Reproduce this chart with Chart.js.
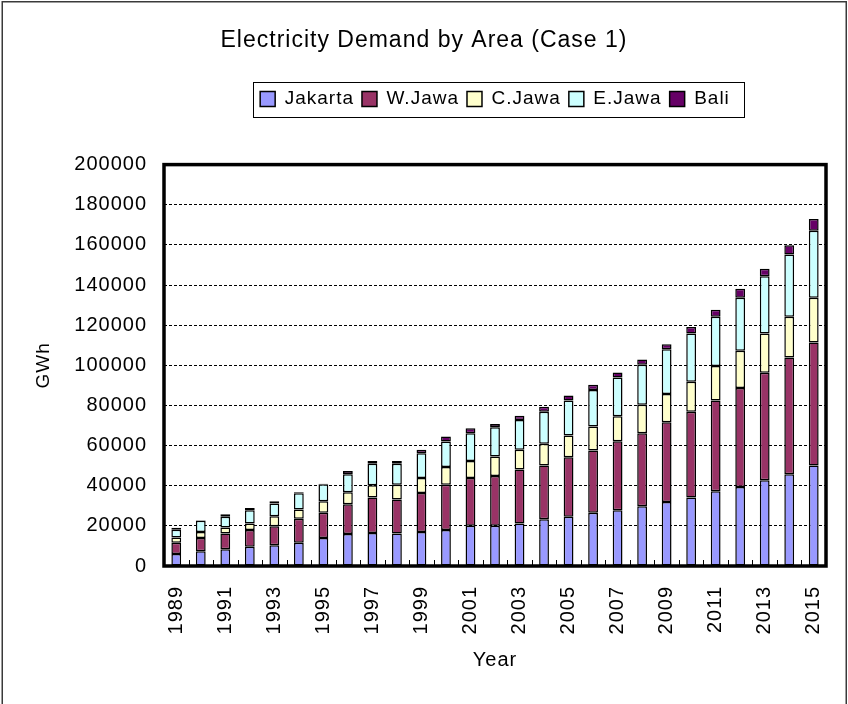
<!DOCTYPE html>
<html>
<head>
<meta charset="utf-8">
<title>Electricity Demand by Area (Case 1)</title>
<script src="https://cdn.jsdelivr.net/npm/chart.js@4.4.1/dist/chart.umd.min.js"></script>
<style>
  html, body { margin: 0; padding: 0; background: #fff; }
</style>
</head>
<body>
<canvas id="chart" width="848" height="704"></canvas>
<script>
// Data (GWh)
const years = [
  "1989", "1990", "1991", "1992", "1993", "1994", "1995", "1996", "1997",
  "1998", "1999", "2000", "2001", "2002", "2003", "2004", "2005", "2006",
  "2007", "2008", "2009", "2010", "2011", "2012", "2013", "2014", "2015",
];
const jakarta = [
  6000, 7400, 8400, 9600, 10400, 11600, 14000, 15900, 16500, 16200, 17000,
  17900, 20000, 20000, 21200, 23300, 24500, 26500, 27800, 29800, 31900,
  34100, 37200, 39400, 42700, 45700, 50100,
];
const wJawa = [
  5600, 6600, 7800, 8300, 9400, 11900, 12500, 14900, 17600, 16900, 19400,
  22600, 23800, 24800, 26900, 26800, 29700, 31100, 34400, 36400, 39700,
  42800, 45200, 49300, 53600, 58200, 61200,
];
const cJawa = [
  2600, 2900, 3000, 3300, 5000, 4600, 5800, 5900, 6100, 7400, 7400,
  8800, 8500, 9800, 9800, 10800, 10800, 11900, 12400, 14100, 14100,
  14900, 17200, 18500, 19500, 20300, 22400,
];
const eJawa = [
  3900, 5600, 5300, 6600, 6300, 8100, 8400, 9000, 10800, 10500, 12400,
  12700, 13900, 14500, 14900, 16000, 17400, 18200, 19300, 20000, 22300,
  24000, 24600, 26500, 28600, 31000, 33400,
];
const bali = [
  1000, 300, 1300, 1100, 1200, 500, 300, 1600, 1300, 1300, 1700,
  2500, 2400, 1700, 2100, 2500, 2500, 2600, 2500, 2600, 2500,
  3300, 3500, 4400, 3700, 4600, 5800,
];

const seriesNames = ["Jakarta", "W.Jawa", "C.Jawa", "E.Jawa", "Bali"];
const seriesColors = ["#9999FF", "#993366", "#FFFFCC", "#CCFFFF", "#660066"];

// Layout constants
const FONT = "'Liberation Sans', Arial, sans-serif";
const Y_AXIS_WIDTH = 156;
const X_AXIS_HEIGHT = 106;
const LEGEND_GAP = 46;

// White page with a thin outer frame; slightly spaced text
const pagePlugin = {
  id: "page",
  beforeLayout(chart) {
    chart.ctx.letterSpacing = "1px";
  },
  beforeDraw(chart) {
    const ctx = chart.ctx;
    ctx.letterSpacing = "1px";
    ctx.save();
    ctx.fillStyle = "#fff";
    ctx.fillRect(0, 0, chart.width, chart.height);
    ctx.strokeStyle = "#3a3a3a";
    ctx.lineWidth = 1.5;
    ctx.strokeRect(2.25, 1.75, chart.width - 4, chart.height + 10);
    ctx.restore();
  },
};

// Empty box between the legend and the plot
const legendGap = {
  id: "legendGap",
  beforeInit(chart) {
    Chart.layouts.addBox(chart, {
      position: "top",
      weight: 500,
      fullSize: false,
      options: {},
      left: 0, top: 0, right: 0, bottom: 0, width: 0, height: 0,
      update(maxWidth) {
        this.width = maxWidth;
        this.height = LEGEND_GAP;
      },
      isHorizontal() { return true; },
      draw() {},
    });
  },
};

// Thick plot frame and small inner ticks between categories
const plotFrame = {
  id: "plotFrame",
  afterDatasetsDraw(chart) {
    const { ctx, chartArea: a, scales: { x } } = chart;
    const step = x.width / years.length;
    ctx.save();
    ctx.strokeStyle = "#000";
    ctx.lineWidth = 1;
    ctx.beginPath();
    for (let i = 1; i < years.length; i++) {
      const px = Math.round(x.left + i * step) + 0.5;
      ctx.moveTo(px, a.bottom);
      ctx.lineTo(px, a.bottom - 6);
    }
    ctx.stroke();
    ctx.lineWidth = 3.5;
    ctx.strokeRect(a.left, a.top, a.right - a.left, a.bottom - a.top);
    ctx.restore();
  },
  afterDraw(chart) {
    // box around the legend entries
    const boxes = chart.legend.legendHitBoxes;
    if (!boxes || !boxes.length) return;
    const left = Math.min(...boxes.map((b) => b.left)) - 7;
    const right = Math.max(...boxes.map((b) => b.left + b.width)) + 14;
    const top = Math.min(...boxes.map((b) => b.top)) - 8;
    const bottom = Math.max(...boxes.map((b) => b.top + b.height)) + 8;
    const ctx = chart.ctx;
    ctx.save();
    ctx.strokeStyle = "#000";
    ctx.lineWidth = 1;
    ctx.strokeRect(Math.round(left) + 0.5, Math.round(top) + 0.5, Math.round(right - left), Math.round(bottom - top));
    ctx.restore();
  },
};

const values = [jakarta, wJawa, cJawa, eJawa, bali];
const datasets = seriesNames.map((name, i) => ({
  label: name,
  data: values[i],
  backgroundColor: seriesColors[i],
  borderColor: "#000",
  borderWidth: 1.5,
  borderSkipped: false,
  barPercentage: 0.4,
  categoryPercentage: 1,
}));

Chart.defaults.font.family = FONT;
Chart.defaults.color = "#000";

new Chart(document.getElementById("chart"), {
  type: "bar",
  data: { labels: years, datasets },
  plugins: [pagePlugin, legendGap, plotFrame],
  options: {
    responsive: false,
    animation: false,
    layout: { padding: { left: 8, right: 8, top: 0, bottom: 32 } },
    plugins: {
      title: {
        display: true,
        text: "Electricity Demand by Area (Case 1)",
        font: { size: 23, weight: "normal" },
        color: "#000",
        padding: { top: 27, bottom: 27 },
      },
      legend: {
        display: true,
        position: "top",
        fullSize: false,
        labels: {
          boxWidth: 15,
          boxHeight: 15,
          padding: 8,
          font: { size: 19 },
          color: "#000",
        },
      },
      tooltip: { enabled: false },
    },
    scales: {
      x: {
        stacked: true,
        afterFit(scale) {
          scale.height = X_AXIS_HEIGHT;
          scale.paddingLeft = 0;
          scale.paddingRight = 22;
        },
        grid: { display: false, drawTicks: false },
        border: { display: false },
        ticks: {
          autoSkip: false,
          minRotation: 90,
          maxRotation: 90,
          padding: 20,
          font: { size: 20 },
          color: "#000",
          callback(value, index) {
            return index % 2 === 0 ? this.getLabelForValue(value) : "";
          },
        },
        title: {
          display: true,
          text: "Year",
          font: { size: 20 },
          color: "#000",
          padding: { top: 12, bottom: 0 },
        },
      },
      y: {
        stacked: true,
        min: 0,
        max: 200000,
        afterFit(scale) { scale.width = Y_AXIS_WIDTH; },
        grid: { color: "#000", lineWidth: 1, drawTicks: false },
        border: { display: false, dash: [3, 2] },
        ticks: {
          stepSize: 20000,
          padding: 17,
          font: { size: 20 },
          color: "#000",
          callback: (v) => String(v),
        },
        title: {
          display: true,
          text: "GWh",
          font: { size: 19 },
          color: "#000",
          padding: { top: 24, bottom: 0 },
        },
      },
    },
  },
});
</script>
</body>
</html>
